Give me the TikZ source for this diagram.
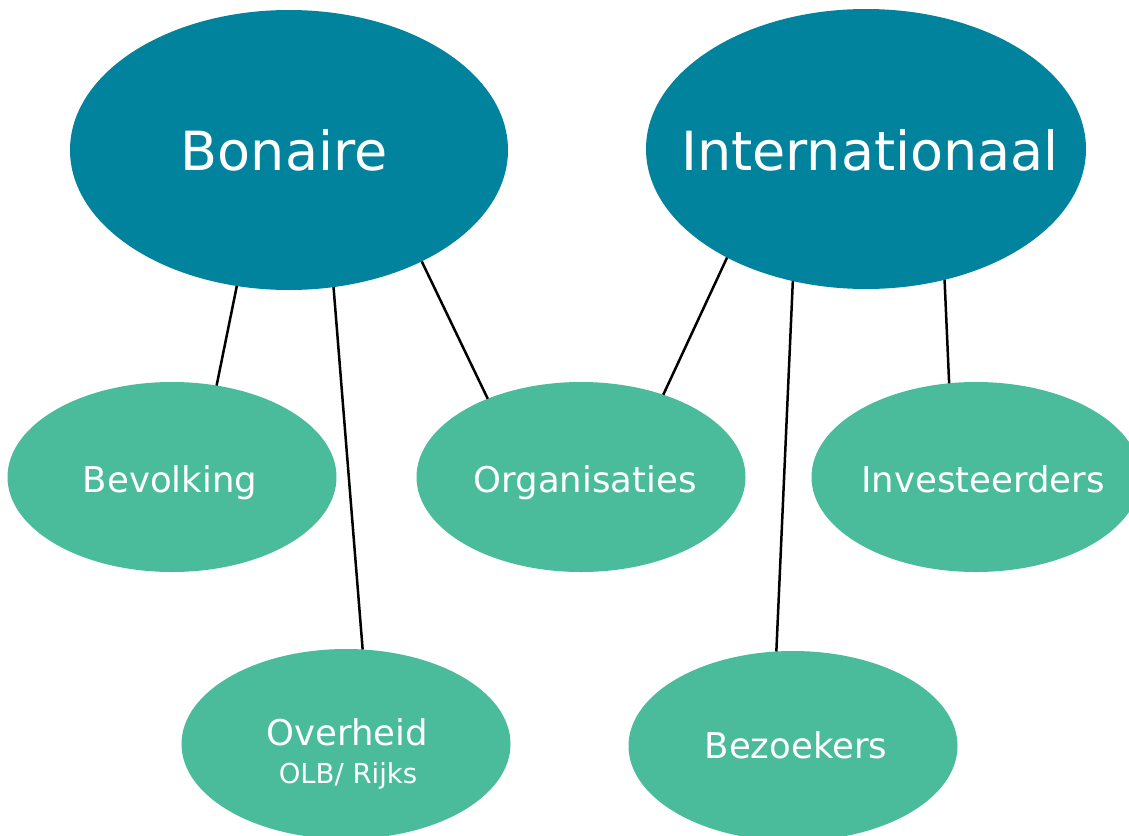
\documentclass[tikz,border=0pt]{standalone}
\usepackage{fontspec}
\setmainfont{DejaVu Sans}
\usetikzlibrary{shapes.geometric}
\definecolor{darkteal}{HTML}{01839D}
\definecolor{lightgreen}{HTML}{4ABC9B}
\tikzset{
  bigell/.style={ellipse, fill=darkteal, draw=none, inner sep=0pt, outer sep=0pt, minimum width=440pt, minimum height=280pt},
  smallell/.style={ellipse, fill=lightgreen, draw=none, inner sep=0pt, outer sep=0pt, minimum width=329pt, minimum height=190pt},
  bigtxt/.style={text=white, font=\fontsize{54}{60}\selectfont, inner sep=0pt, anchor=base},
  smalltxt/.style={text=white, font=\fontsize{35.5}{40}\selectfont, inner sep=0pt, anchor=base},
  subtxt/.style={text=white, font=\fontsize{27.5}{32}\selectfont, inner sep=0pt, anchor=base},
  conn/.style={draw=black, line width=2.5pt}
}
\begin{document}
\begin{tikzpicture}[x=1pt,y=-1pt]
\useasboundingbox (0,0) rectangle (1129,835);
\clip (0,0) rectangle (1129,835);
\fill[white] (0,0) rectangle (1129,835);
% main ellipses
\node[bigell, minimum width=438pt] (bon) at (289,150) {};
\node[bigell] (int) at (866,149) {};
% secondary ellipses
\node[smallell] (bev) at (172,477) {};
\node[smallell] (org) at (581,477) {};
\node[smallell] (inv) at (976,477) {};
\node[smallell] (ove) at (346,744) {};
\node[smallell] (bez) at (793,746) {};
% labels
\node[bigtxt] (tbon) at (284,170) {Bonaire};
\node[bigtxt] (tint) at (870,170) {Internationaal};
\node[smalltxt] (tbev) at (170,492) {Bevolking};
\node[smalltxt] (torg) at (585,492) {Organisaties};
\node[smalltxt] (tinv) at (983,492) {Investeerders};
\node[smalltxt] (tove) at (347,745) {Overheid};
\node[subtxt] (tolb) at (348,783) {OLB/ Rijks};
\node[smalltxt] (tbez) at (796,758) {Bezoekers};
% connectors
\draw[conn] (bon.-111.5) -- (bev.64.4);
\draw[conn] (bon.-72.7) -- (ove.80.3);
\draw[conn] (bon.-40.8) -- (org.140.8);
\draw[conn] (int.-142.5) -- (org.45);
\draw[conn] (int.-119.2) -- (bez.100.3);
\draw[conn] (int.-59.9) -- (inv.106.6);
\end{tikzpicture}
\end{document}
